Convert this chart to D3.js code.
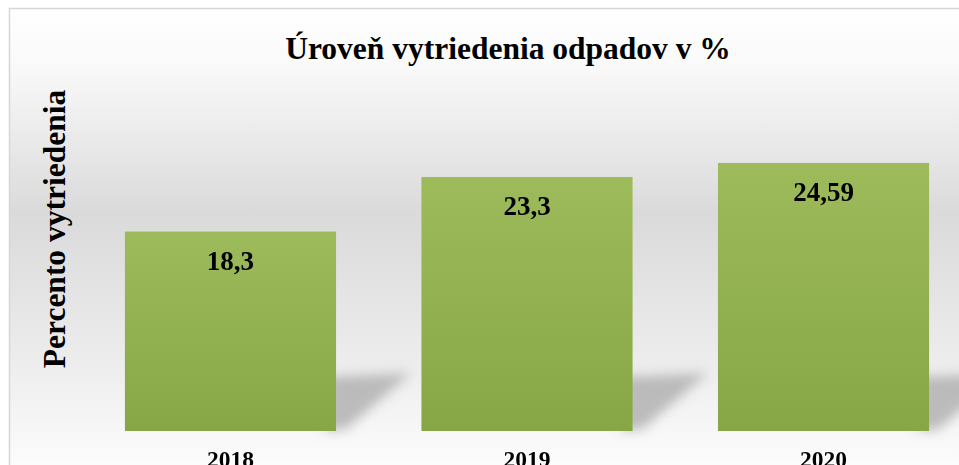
<!DOCTYPE html>
<html>
<head>
<meta charset="utf-8">
<style>
  body { margin: 0; background: #fff; }
  svg { display: block; }
</style>
</head>
<body>
<script src="https://d3js.org/d3.v7.min.js"></script>
<script>
    var width = 959, height = 465;

    // data
    var years = ["2018", "2019", "2020"];
    var values = [18.3, 23.3, 24.59];
    var valueLabels = ["18,3", "23,3", "24,59"];
    var chartTitle = "Úroveň vytriedenia odpadov v %";
    var yTitle = "Percento vytriedenia";

    var svg = d3.select('body').append('svg').attr('width', width).attr('height', height);
    var defs = svg.append('defs');

    // background: white at top, grey band in the middle, light again at bottom
    var bg = defs.append('linearGradient').attr('id', 'bg')
        .attr('gradientUnits', 'userSpaceOnUse')
        .attr('x1', 0).attr('y1', 8).attr('x2', 0).attr('y2', 465);
    bg.append('stop').attr('offset', 0).attr('stop-color', '#ffffff');
    bg.append('stop').attr('offset', 0.12).attr('stop-color', '#fafafa');
    bg.append('stop').attr('offset', 0.45).attr('stop-color', '#dadada');
    bg.append('stop').attr('offset', 0.78).attr('stop-color', '#ededed');
    bg.append('stop').attr('offset', 1).attr('stop-color', '#fcfcfc');

    var barGrad = defs.append('linearGradient').attr('id', 'barGrad')
        .attr('x1', 0).attr('y1', 0).attr('x2', 0).attr('y2', 1);
    barGrad.append('stop').attr('offset', 0).attr('stop-color', '#9dbb5a');
    barGrad.append('stop').attr('offset', 1).attr('stop-color', '#87a645');

    defs.append('filter').attr('id', 'blur')
        .attr('x', '-50%').attr('y', '-50%').attr('width', '200%').attr('height', '200%')
        .append('feGaussianBlur').attr('stdDeviation', 6);

    svg.append('rect')
        .attr('x', 9.5).attr('y', 8.5)
        .attr('width', 1000).attr('height', 1000)
        .attr('fill', 'url(#bg)')
        .attr('stroke', '#d6d6d6').attr('stroke-width', 1.5);

    var x = d3.scaleBand().domain(years).range([100, 954])
        .paddingInner(0.288).paddingOuter(0.084);
    var y = d3.scaleLinear().domain([0, 30]).range([431, 104]);

    var data = years.map(function (d, i) {
        return { year: d, value: values[i], label: valueLabels[i] };
    });

    // floor shadows behind each bar
    svg.append('g').attr('filter', 'url(#blur)')
        .selectAll('path')
        .data(data)
        .join('path')
        .attr('fill', '#a8a8a8')
        .attr('opacity', 0.75)
        .attr('d', function (d) {
            var x1 = x(d.year) + x.bandwidth();
            var b = y(0);
            return 'M' + (x1 - 10) + ',' + (b - 54) +
                'L' + (x1 + 75) + ',' + (b - 58) +
                'L' + (x1 + 10) + ',' + (b - 2) +
                'L' + (x1 - 10) + ',' + b + 'Z';
        });

    svg.append('g')
        .selectAll('rect')
        .data(data)
        .join('rect')
        .attr('x', function (d) { return x(d.year); })
        .attr('y', function (d) { return y(d.value); })
        .attr('width', x.bandwidth())
        .attr('height', function (d) { return y(0) - y(d.value); })
        .attr('fill', 'url(#barGrad)');

    var serif = '"Liberation Serif", "Times New Roman", serif';

    svg.append('g')
        .selectAll('text')
        .data(data)
        .join('text')
        .attr('x', function (d) { return x(d.year) + x.bandwidth() / 2; })
        .attr('y', function (d) { return y(d.value) + 38; })
        .attr('text-anchor', 'middle')
        .style('font-family', serif).style('font-weight', 'bold').style('font-size', '27px')
        .text(function (d) { return d.label; });

    // category axis, no line or ticks; labels sit partly below the visible edge
    var xAxis = svg.append('g')
        .attr('transform', 'translate(0,' + y(0) + ')')
        .call(d3.axisBottom(x).tickSize(0).tickPadding(0));
    xAxis.select('.domain').remove();
    xAxis.selectAll('text')
        .attr('dy', 0).attr('y', 36)
        .style('font-family', serif).style('font-weight', 'bold').style('font-size', '23.5px')
        .attr('fill', '#000');

    svg.append('text')
        .attr('x', 508).attr('y', 59)
        .attr('text-anchor', 'middle')
        .style('font-family', serif).style('font-weight', 'bold').style('font-size', '31.5px')
        .text(chartTitle);

    svg.append('text')
        .attr('transform', 'translate(65,229) rotate(-90)')
        .attr('text-anchor', 'middle')
        .style('font-family', serif).style('font-weight', 'bold').style('font-size', '31.5px')
        .text(yTitle);
</script>
</body>
</html>
